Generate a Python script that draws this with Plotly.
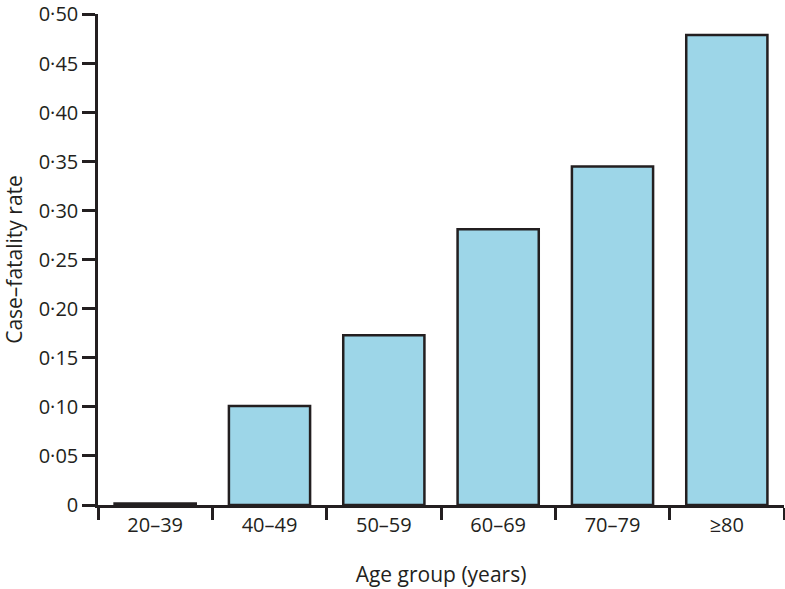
import plotly.graph_objects as go

categories = ["20–39", "40–49", "50–59", "60–69", "70–79", "≥80"]
case_fatality = [0.0015, 0.101, 0.173, 0.281, 0.345, 0.479]
y_tick_values = [0, 0.05, 0.10, 0.15, 0.20, 0.25, 0.30, 0.35, 0.40, 0.45, 0.50]
y_tick_labels = ["0", "0·05", "0·10", "0·15", "0·20", "0·25", "0·30", "0·35", "0·40", "0·45", "0·50"]

ink = "#231F20"
font_family = "Open Sans, Lato, sans-serif"

fig = go.Figure(
    go.Bar(
        x=categories,
        y=case_fatality,
        width=0.71,
        marker=dict(color="#9DD6E8", line=dict(color=ink, width=2.5)),
        hoverinfo="x+y",
    )
)

fig.update_layout(
    width=785,
    height=589,
    margin=dict(l=98, r=1, t=14, b=84, autoexpand=False),
    paper_bgcolor="white",
    plot_bgcolor="white",
    showlegend=False,
    font=dict(family=font_family, size=20, color=ink),
)

fig.update_xaxes(
    type="category",
    range=[-0.5, 5.5],
    tickson="boundaries",
    ticks="outside",
    ticklen=12,
    tickwidth=2.5,
    tickcolor=ink,
    showline=True,
    linecolor=ink,
    linewidth=2.5,
    showgrid=False,
    zeroline=False,
    automargin=False,
    tickfont=dict(size=20),
    title=dict(text="Age group (years)", font=dict(size=21), standoff=31),
)

fig.update_yaxes(
    range=[0, 0.5005],
    tickvals=y_tick_values,
    ticktext=y_tick_labels,
    ticks="outside",
    ticklen=13,
    tickwidth=2.5,
    tickcolor=ink,
    showline=True,
    linecolor=ink,
    linewidth=2.5,
    showgrid=False,
    zeroline=False,
    automargin=False,
    ticklabeloverflow="allow",
    tickfont=dict(size=20),
    title=dict(text="Case–fatality rate", font=dict(size=21), standoff=20),
)

fig.write_html(
    "out.html",
    config={"displayModeBar": False},
    post_script="document.body.style.margin='0px';",
)
